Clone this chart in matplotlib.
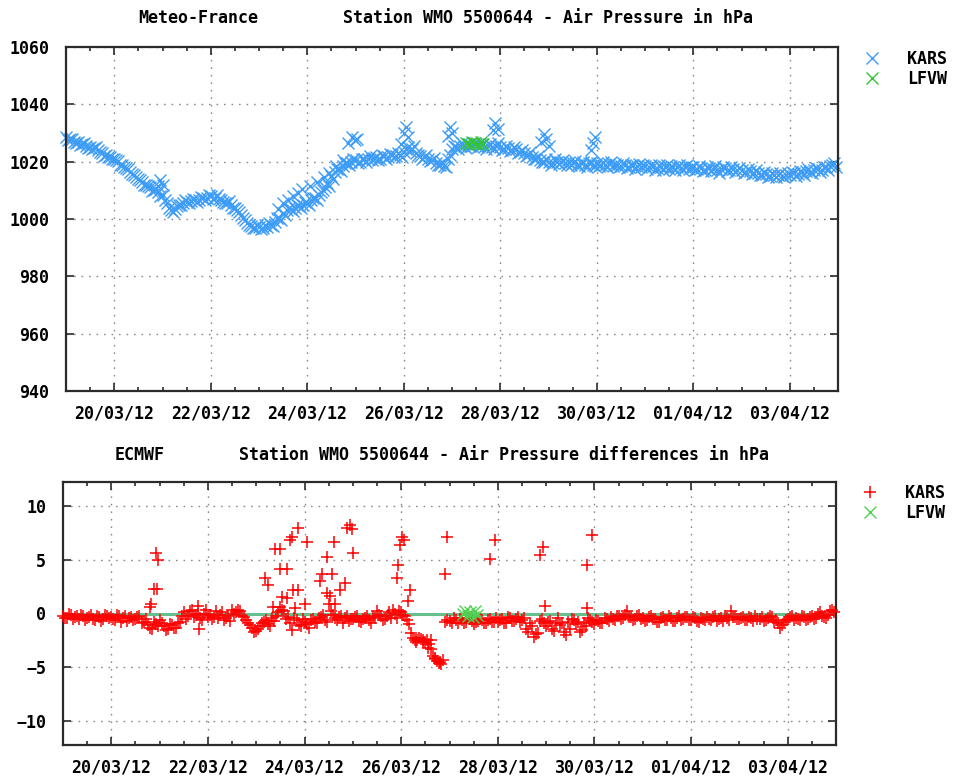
import numpy as np
import matplotlib
matplotlib.use("Agg")
import matplotlib.pyplot as plt
import matplotlib.dates as mdates
from matplotlib.ticker import FixedLocator

plt.rcParams["font.family"] = ["DejaVu Sans Mono"]
plt.rcParams["font.weight"] = "bold"

# ---------------------------------------------------------------------------
# Data
# ---------------------------------------------------------------------------
START = np.datetime64("2012-03-19T00:00")
END = np.datetime64("2012-04-04T00:00")

station_title = "Station WMO 5500644"
top_source = "Meteo-France"
bottom_source = "ECMWF"
series_names = ["KARS", "LFVW"]
date_ticks = ["2012-03-20", "2012-03-22", "2012-03-24", "2012-03-26",
              "2012-03-28", "2012-03-30", "2012-04-01", "2012-04-03"]
pressure_ticks = [940, 960, 980, 1000, 1020, 1040, 1060]
diff_ticks = [-10, -5, 0, 5, 10]

# KARS air pressure (hPa) at even hours from 19/03/12 00 UTC, one row per day
kars_pressure_even = [
    1028.5, 1027.8, 1027.0, 1026.8, 1026.0, 1025.5, 1025.2, 1024.6, 1024.0, 1023.0, 1022.5, 1021.5,
    1021.0, 1020.2, 1019.0, 1017.8, 1016.5, 1015.5, 1014.0, 1013.0, 1012.0, 1011.0, 1010.0, 1009.5,
    1008.5, 1005.5, 1003.0, 1003.5, 1005.0, 1005.5, 1006.0, 1006.3, 1006.8, 1006.5, 1007.2, 1007.5,
    1008.0, 1007.5, 1007.0, 1006.0, 1005.5, 1005.0, 1004.0, 1002.5, 1000.5, 998.5, 997.5, 997.0,
    997.2, 997.0, 997.3, 998.0, 999.0, 1000.5, 1002.0, 1003.0, 1003.5, 1004.0, 1004.5, 1005.0,
    1005.5, 1006.5, 1007.5, 1008.5, 1010.0, 1012.5, 1015.0, 1016.5, 1017.5, 1018.5, 1019.5, 1020.0,
    1020.5, 1020.0, 1020.8, 1021.0, 1020.5, 1021.5, 1021.0, 1022.0, 1021.5, 1022.5, 1022.0, 1022.5,
    1023.5, 1025.0, 1024.5, 1023.0, 1022.0, 1021.5, 1021.0, 1020.5, 1019.5, 1019.0, 1018.5, 1021.0,
    1024.5, 1025.0, 1025.5, 1025.5, 1026.0, 1025.5, 1026.0, 1025.5, 1025.0, 1025.5, 1025.0, 1025.5,
    1025.0, 1024.5, 1024.8, 1024.0, 1024.5, 1023.5, 1023.0, 1022.5, 1021.5, 1021.0, 1020.5, 1020.0,
    1020.0, 1019.5, 1020.0, 1019.8, 1019.5, 1020.0, 1019.5, 1019.0, 1019.5, 1019.0, 1019.5, 1019.0,
    1019.5, 1019.0, 1018.8, 1019.2, 1018.5, 1019.0, 1018.5, 1018.8, 1018.2, 1018.8, 1018.5, 1018.0,
    1018.5, 1018.0, 1018.5, 1017.8, 1018.2, 1018.0, 1017.5, 1018.0, 1018.3, 1017.8, 1018.0, 1017.5,
    1018.0, 1017.5, 1017.8, 1017.2, 1017.8, 1017.5, 1017.0, 1017.5, 1017.8, 1017.2, 1017.5, 1017.0,
    1017.0, 1016.5, 1016.8, 1016.0, 1016.2, 1015.5, 1015.8, 1015.0, 1015.5, 1015.2, 1015.0, 1015.5,
    1015.5, 1016.0, 1015.8, 1016.5, 1016.8, 1016.5, 1017.0, 1017.5, 1017.2, 1018.0, 1018.5, 1019.5,
]

# KARS air pressure (hPa) at odd hours from 19/03/12 01 UTC, one row per day
kars_pressure_odd = [
    1027.5, 1028.0, 1026.5, 1025.8, 1026.5, 1024.8, 1024.5, 1025.0, 1023.2, 1022.0, 1021.8, 1021.0,
    1020.5, 1019.0, 1018.0, 1017.5, 1015.8, 1014.5, 1013.5, 1012.0, 1011.5, 1009.8, 1010.5, 1008.0,
    1006.5, 1004.0, 1002.5, 1004.5, 1004.8, 1006.5, 1005.5, 1007.0, 1006.0, 1007.8, 1006.8, 1008.2,
    1007.0, 1008.5, 1006.5, 1005.5, 1006.2, 1004.0, 1003.0, 1001.5, 999.5, 997.8, 996.8, 997.8,
    996.5, 997.8, 998.5, 997.5, 1000.2, 999.8, 1001.5, 1004.0, 1002.8, 1005.0, 1003.8, 1006.0,
    1004.8, 1007.5, 1006.8, 1009.5, 1011.0, 1011.5, 1014.0, 1017.5, 1016.8, 1019.5, 1018.8, 1021.0,
    1019.5, 1021.0, 1020.0, 1022.0, 1021.2, 1020.5, 1022.2, 1021.0, 1022.8, 1021.5, 1023.0, 1021.8,
    1024.5, 1023.8, 1025.5, 1022.5, 1021.0, 1022.5, 1020.2, 1021.2, 1018.8, 1019.8, 1018.0, 1022.5,
    1025.5, 1024.5, 1026.5, 1024.8, 1025.5, 1026.5, 1025.0, 1026.2, 1024.5, 1026.0, 1024.5, 1026.5,
    1024.0, 1025.5, 1023.8, 1025.0, 1023.0, 1024.2, 1022.0, 1023.5, 1020.8, 1022.0, 1019.8, 1021.0,
    1019.0, 1020.8, 1019.2, 1020.5, 1018.8, 1019.0, 1020.2, 1018.5, 1020.0, 1018.2, 1020.0, 1018.5,
    1018.5, 1020.0, 1018.0, 1019.8, 1019.2, 1018.0, 1019.5, 1017.8, 1019.0, 1017.5, 1019.2, 1018.8,
    1017.5, 1019.0, 1017.2, 1018.8, 1017.0, 1019.0, 1018.5, 1017.2, 1019.0, 1017.0, 1018.8, 1018.2,
    1017.0, 1018.5, 1016.8, 1018.2, 1016.8, 1018.5, 1016.2, 1018.2, 1016.8, 1018.0, 1016.5, 1017.8,
    1016.0, 1017.5, 1015.8, 1017.0, 1015.2, 1016.5, 1014.8, 1016.2, 1014.5, 1016.0, 1014.8, 1016.2,
    1016.5, 1015.0, 1016.8, 1015.5, 1017.5, 1016.0, 1017.8, 1016.5, 1018.0, 1017.0, 1019.0, 1018.0,
]

# Additional KARS reports off the main track (day offset from 19/03 00 UTC, hPa)
kars_extra_day = [1.85, 1.90, 1.95, 2.00,
                  4.40, 4.50, 4.60, 4.70, 4.80, 4.90, 5.05, 5.20, 5.35, 5.45,
                  5.60, 5.75, 5.85, 5.92, 5.98, 6.03,
                  6.95, 7.00, 7.04, 7.08, 7.92, 7.96, 8.00,
                  8.85, 8.90, 8.95, 9.85, 9.90, 9.95, 10.00,
                  10.88, 10.92, 10.96]
kars_extra_hpa = [1010.5, 1011.5, 1013.5, 1012.0,
                  1003.5, 1005.5, 1006.5, 1008.0, 1009.0, 1010.5, 1011.5, 1013.0, 1014.5, 1016.0,
                  1018.5, 1020.5, 1026.5, 1028.5, 1027.5, 1028.0,
                  1026.0, 1030.0, 1032.0, 1028.5, 1029.0, 1032.0, 1030.0,
                  1031.0, 1033.5, 1031.5, 1027.0, 1029.5, 1028.0, 1025.5,
                  1024.0, 1026.5, 1028.5]

# LFVW air pressure reports
lfvw_day = [8.30, 8.36, 8.42, 8.48, 8.54, 8.60, 8.64]
lfvw_hpa = [1026.5, 1026.0, 1027.0, 1026.5, 1026.0, 1026.8, 1026.2]

# KARS minus ECMWF (hPa) at even hours, one row per day
kars_diff_even = [
    -0.2, -0.4, -0.1, -0.3, -0.5, -0.2, -0.4, -0.1, -0.6, -0.3, -0.5, -0.2,
    -0.3, -0.6, -0.2, -0.4, -0.7, -0.3, -0.5, -0.2, -0.8, -1.1, -1.4, -1.0,
    -0.6, -1.2, -1.4, -1.1, -1.3, -0.8, 0.1, -0.2, 0.3, -0.1, -0.4, 0.0,
    -0.3, -0.5, 0.2, -0.1, -0.6, -0.2, 0.3, 0.1, 0.2, -0.3, -0.9, -1.3,
    -1.6, -1.2, -0.8, -1.0, -0.4, -0.2, 0.6, 0.2, -0.3, -1.5, -0.6, -1.2,
    -0.8, -1.3, -0.5, -0.9, -0.3, -0.6, 0.9, -0.1, -0.6, -0.2, -0.4, -0.7,
    -0.5, -0.2, -0.8, -0.4, -0.6, -0.3, 0.2, -0.2, -0.5, 0.1, 0.3, -0.4,
    0.1, -0.2, -1.0, -2.3, -2.5, -2.4, -2.6, -2.8, -3.9, -4.4, -4.7, -0.8,
    -0.7, -0.4, -0.9, -0.6, -0.8, -0.5, -1.0, -0.7, -0.6, -0.9, -0.5, -0.8,
    -0.8, -0.5, -0.9, -0.4, -0.7, -0.3, -0.6, -1.4, -0.9, -2.2, -1.8, -0.5,
    -1.2, -0.7, -1.6, -0.4, -0.9, -2.0, -1.4, -0.6, -0.8, -1.5, -1.2, -0.6,
    -1.0, -0.7, -0.9, -0.5, -0.3, -0.6, -0.2, -0.4, 0.2, -0.3, -0.5, -0.1,
    -0.4, -0.6, -0.2, -0.5, -0.8, -0.3, -0.6, -0.4, -0.7, -0.2, -0.5, -0.3,
    -0.6, -0.4, -0.8, -0.5, -0.3, -0.6, -0.2, -0.5, -0.7, -0.4, 0.2, -0.3,
    -0.5, -0.3, -0.6, -0.4, -0.2, -0.5, -0.7, -0.4, -0.3, -0.6, -1.3, -0.8,
    -0.5, -0.2, -0.4, -0.6, -0.3, -0.5, -0.2, -0.4, 0.1, -0.3, -0.1, 0.3,
]

# KARS minus ECMWF (hPa) at odd hours, one row per day
kars_diff_odd = [
    -0.4, 0.0, -0.5, -0.2, -0.1, -0.6, -0.3, -0.5, -0.2, -0.7, -0.1, -0.4,
    -0.5, -0.1, -0.8, -0.2, -0.4, -0.6, -0.3, -0.9, -0.5, -1.3, -0.8, -1.2,
    -0.9, -1.5, -1.0, -1.3, -0.9, -0.2, -0.5, 0.2, -0.3, 0.0, -0.6, 0.3,
    -0.1, -0.3, -0.4, 0.1, -0.4, -0.7, 0.0, 0.3, -0.2, -0.6, -1.1, -1.7,
    -1.4, -0.9, -0.6, -1.2, -0.7, 0.1, 0.3, -0.5, -0.9, -0.4, -1.1, -0.5,
    -1.0, -0.6, -0.8, -0.4, -0.1, -0.8, 0.2, -0.4, -0.3, -0.9, -0.2, -0.5,
    -0.3, -0.7, -0.5, -0.2, -0.9, -0.4, -0.1, -0.6, -0.2, -0.4, 0.0, 0.2,
    -0.1, -0.6, -1.8, -2.5, -2.3, -2.6, -2.5, -3.3, -4.1, -4.6, -4.3, -0.6,
    -0.9, -0.6, -0.5, -0.9, -0.4, -0.7, -0.8, -0.5, -0.9, -0.6, -0.8, -0.4,
    -0.6, -0.9, -0.3, -0.7, -0.5, -0.8, -0.4, -1.7, -1.2, -1.9, -0.7, -0.9,
    -0.8, -1.4, -0.9, -1.1, -1.7, -0.8, -0.5, -1.0, -1.7, -0.9, -0.4, -0.8,
    -0.6, -0.9, -0.4, -0.7, -0.5, -0.2, -0.5, -0.1, -0.3, -0.6, -0.2, -0.5,
    -0.7, -0.3, -0.5, -0.8, -0.4, -0.6, -0.2, -0.7, -0.4, -0.6, -0.3, -0.6,
    -0.3, -0.7, -0.4, -0.6, -0.5, -0.3, -0.7, -0.4, -0.2, -0.6, -0.3, -0.5,
    -0.4, -0.6, -0.3, -0.7, -0.5, -0.3, -0.6, -0.2, -0.8, -0.9, -1.1, -0.6,
    -0.3, -0.6, -0.5, -0.2, -0.6, -0.3, -0.5, 0.0, -0.2, -0.4, 0.2, 0.1,
]

# Additional KARS differences off the main track
kars_diff_extra_day = [1.80, 1.83, 1.88, 1.95, 1.92, 1.97, 2.80, 2.82,
                       4.18, 4.25, 4.35, 4.39, 4.49, 4.49, 4.63, 4.53, 4.63,
                       4.70, 4.73, 4.87, 4.77, 4.87, 4.80, 5.01, 5.05,
                       5.32, 5.36, 5.46, 5.46, 5.53, 5.56, 5.60, 5.63, 5.73,
                       5.84, 5.87, 5.94, 5.98, 6.01,
                       6.91, 6.94, 6.98, 7.01, 7.05, 7.15, 7.18,
                       7.30, 7.45, 7.55, 7.62, 7.70, 7.80, 7.91, 7.94,
                       8.84, 8.94, 9.88, 9.94, 9.98, 10.85, 10.95, 10.85]
kars_diff_extra = [0.6, 0.9, 2.3, 2.3, 5.6, 5.0, 0.7, -1.4,
                   3.3, 2.6, 0.6, 6.0, 6.0, 4.1, 4.1, 1.5, 1.4,
                   6.8, 7.1, 7.9, 2.2, 2.2, 0.5, 0.9, 6.6,
                   3.0, 3.7, 5.2, 1.9, 1.6, 3.7, 6.6, 0.9, 2.2,
                   2.8, 7.9, 8.2, 7.8, 5.6,
                   3.3, 4.5, 6.4, 7.1, 6.8, 1.2, 2.2,
                   -2.6, -2.5, -3.2, -2.5, -4.2, -4.5, 3.7, 7.1,
                   5.1, 6.8, 5.4, 6.2, 0.7, 4.5, 7.3, 0.5]

# LFVW minus ECMWF
lfvw_diff_day = [8.28, 8.33, 8.38, 8.43, 8.48, 8.52, 8.57]
lfvw_diff = [0.0, 0.2, -0.2, 0.1, -0.3, 0.2, -0.1]

# ---------------------------------------------------------------------------
# Helpers
# ---------------------------------------------------------------------------
def day_to_time(days):
    minutes = np.round(np.asarray(days, dtype=float) * 1440).astype("int64")
    return START + minutes.astype("timedelta64[m]")


def hourly_times(n, first_hour):
    return START + (first_hour + 2 * np.arange(n)).astype("timedelta64[h]")


def merge_series(even, odd, extra_day, extra_val):
    t = np.concatenate([hourly_times(len(even), 0), hourly_times(len(odd), 1),
                        day_to_time(extra_day)])
    v = np.concatenate([np.asarray(even), np.asarray(odd), np.asarray(extra_val)])
    return t, v


W, H = 954, 776


def fig_box(left, top, right, bottom):
    return [left / W, 1 - bottom / H, (right - left) / W, (bottom - top) / H]


BLUE = "#3d9cf5"
GREEN = "#33c433"
RED = "#ff0000"
ZERO_GREEN = "#66c08e"
GRID = "#8c8c8c"
FRAME = "#2a2a2a"
FS = 12


def style_axes(ax, yticks, ylim):
    ax.set_xlim(START, END)
    ax.set_ylim(*ylim)
    ax.set_yticks(yticks)
    major = mdates.date2num(np.array(date_ticks, dtype="datetime64[D]"))
    ax.xaxis.set_major_locator(FixedLocator(major))
    ax.xaxis.set_major_formatter(mdates.DateFormatter("%d/%m/%y"))
    ax.xaxis.set_minor_locator(mdates.HourLocator(byhour=[0, 12]))
    ax.tick_params(which="both", direction="in", top=True, right=True,
                   colors=FRAME, labelcolor="black", labelsize=FS)
    ax.tick_params(which="major", length=6, width=1.2)
    ax.tick_params(which="minor", length=3, width=1.2)
    ax.tick_params(axis="x", which="major", pad=10)
    ax.tick_params(axis="y", which="major", pad=12)
    for s in ax.spines.values():
        s.set_color(FRAME)
        s.set_linewidth(1.6)
    ax.grid(True, which="major", color=GRID, linewidth=1.0,
            linestyle=(0, (1.2, 4.2)))
    ax.set_axisbelow(True)


fig = plt.figure(figsize=(W / 100, H / 100), dpi=100)
fig.patch.set_facecolor("white")

# ---------------------------------------------------------------------------
# Top panel: air pressure
# ---------------------------------------------------------------------------
ax1 = fig.add_axes(fig_box(66, 47, 838, 391))
style_axes(ax1, pressure_ticks, (940, 1060))

kars_t, kars_v = merge_series(kars_pressure_even, kars_pressure_odd,
                              kars_extra_day, kars_extra_hpa)
ax1.plot(kars_t, kars_v, linestyle="none", marker="x", markersize=8,
         markeredgewidth=1.0, color=BLUE, label=series_names[0], clip_on=False)
ax1.plot(day_to_time(lfvw_day), lfvw_hpa, linestyle="none", marker="x",
         markersize=8, markeredgewidth=1.0, color=GREEN,
         label=series_names[1], clip_on=False)

ax1.legend(loc="upper left", bbox_to_anchor=(864 / W, 1 - 50 / H),
           bbox_transform=fig.transFigure, frameon=False, fontsize=FS,
           handlelength=1.0, handletextpad=1.6, labelspacing=0.1,
           borderpad=0, borderaxespad=0)

fig.text(198 / W, 1 - 18 / H, top_source, ha="center", va="center", fontsize=FS)
fig.text(548 / W, 1 - 18 / H, station_title + " - Air Pressure in hPa",
         ha="center", va="center", fontsize=FS)

# ---------------------------------------------------------------------------
# Bottom panel: differences to ECMWF
# ---------------------------------------------------------------------------
ax2 = fig.add_axes(fig_box(63, 482, 836, 745))
style_axes(ax2, diff_ticks, (-12.2, 12.2))

ax2.axhline(0, color=ZERO_GREEN, linewidth=2.2, zorder=1.5)

diff_t, diff_v = merge_series(kars_diff_even, kars_diff_odd,
                              kars_diff_extra_day, kars_diff_extra)
ax2.plot(diff_t, diff_v, linestyle="none", marker="+", markersize=8.5,
         markeredgewidth=1.1, color=RED, label=series_names[0], zorder=3,
         clip_on=False)
ax2.plot(day_to_time(lfvw_diff_day), lfvw_diff, linestyle="none", marker="x",
         markersize=8, markeredgewidth=1.0, color="#4fd04f",
         label=series_names[1], zorder=4, clip_on=False)

ax2.legend(loc="upper left", bbox_to_anchor=(862 / W, 1 - 484 / H),
           bbox_transform=fig.transFigure, frameon=False, fontsize=FS,
           handlelength=1.0, handletextpad=1.6, labelspacing=0.1,
           borderpad=0, borderaxespad=0)

fig.text(140 / W, 1 - 455 / H, bottom_source, ha="center", va="center", fontsize=FS)
fig.text(504 / W, 1 - 455 / H, station_title + " - Air Pressure differences in hPa",
         ha="center", va="center", fontsize=FS)

fig.savefig("out.png", dpi=100, facecolor="white")
